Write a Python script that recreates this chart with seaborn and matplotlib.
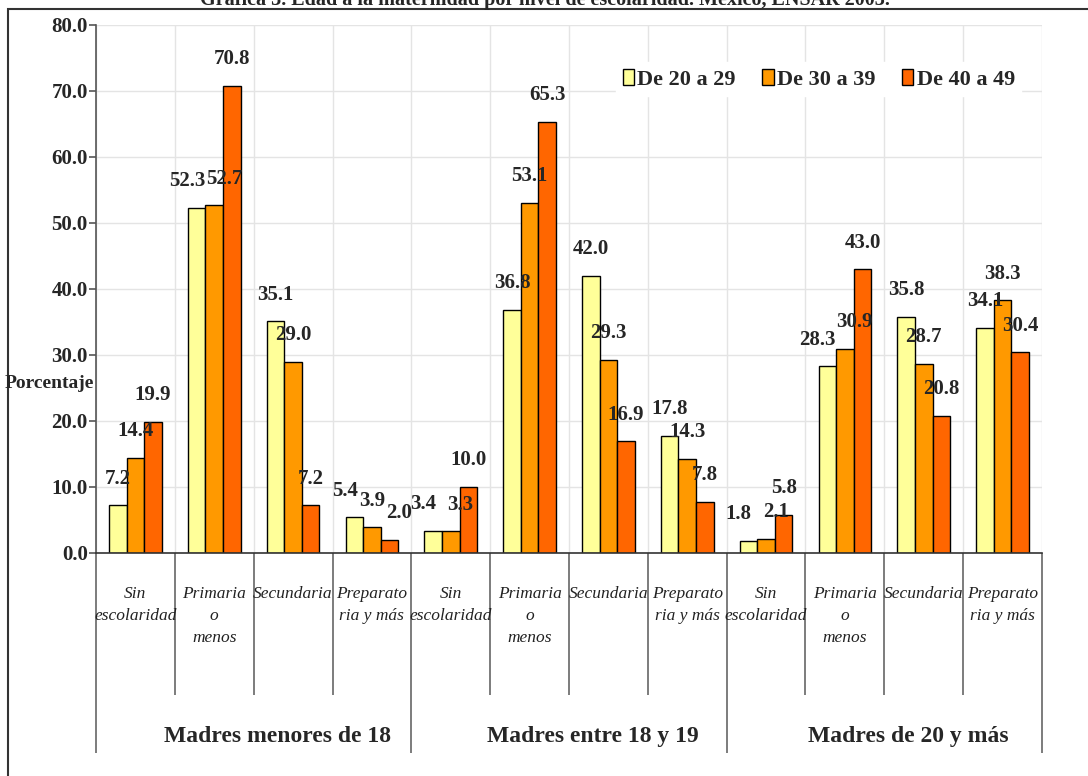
import matplotlib
matplotlib.use("Agg")
import numpy as np
import pandas as pd
import matplotlib.pyplot as plt
import matplotlib.patches as mpatches
import matplotlib.transforms as mtransforms
import seaborn as sns

# ------------------------------------------------------
# Data
# ------------------------------------------------------
groups = ["Madres menores de 18", "Madres entre 18 y 19", "Madres de 20 y más"]
levels = ["Sin\nescolaridad", "Primaria\no\nmenos", "Secundaria", "Preparato\nria y más"]
ages = ["De 20 a 29", "De 30 a 39", "De 40 a 49"]

# one list per age band, 12 values (group x level)
de_20_29 = [7.2, 52.3, 35.1, 5.4, 3.4, 36.8, 42.0, 17.8, 1.8, 28.3, 35.8, 34.1]
de_30_39 = [14.4, 52.7, 29.0, 3.9, 3.3, 53.1, 29.3, 14.3, 2.1, 30.9, 28.7, 38.3]
de_40_49 = [19.9, 70.8, 7.2, 2.0, 10.0, 65.3, 16.9, 7.8, 5.8, 43.0, 20.8, 30.4]

colors = ["#FFFF99", "#FF9900", "#FF6600"]
title = "Gráfica 3. Edad a la maternidad por nivel de escolaridad. México, ENSAR 2003."

# ------------------------------------------------------
# Long table for seaborn
# ------------------------------------------------------
series = [de_20_29, de_30_39, de_40_49]
keys = [f"{g}|{l}" for g in groups for l in levels]
rows = []
for age, vals in zip(ages, series):
    for k, v in zip(keys, vals):
        rows.append({"cat": k, "edad": age, "pct": v})
df = pd.DataFrame(rows)

sns.set_style("white")
plt.rcParams["font.family"] = ["Liberation Serif", "DejaVu Serif"]

fig = plt.figure(figsize=(10.88, 7.76), dpi=100)
ax = fig.add_axes([96 / 1088, 1 - 553 / 776, (1042 - 96) / 1088, (553 - 25) / 776])

sns.barplot(data=df, x="cat", y="pct", hue="edad", order=keys, hue_order=ages,
            palette=colors, width=0.67, edgecolor="black", linewidth=1,
            saturation=1, ax=ax)

# value labels, pushed apart sideways when two neighbours sit at about the same height
pad = 12
labels = [ax.bar_label(cont, fmt="%.1f", padding=pad, fontsize=15, fontweight="bold")
          for cont in ax.containers]
for i in range(len(keys)):
    shifts = [0.0, 0.0, 0.0]
    for h in range(2):
        if abs(series[h][i] - series[h + 1][i]) < 3:
            shifts[h] -= 7
            shifts[h + 1] += 7
    for h in range(3):
        labels[h][i].xyann = (shifts[h], pad)

# axes
ax.set_ylim(0, 80)
ax.set_xlim(-0.5, 11.5)
ax.set_yticks(np.arange(0, 81, 10))
ax.set_yticklabels([f"{v:.1f}" for v in np.arange(0, 81, 10)], fontsize=15, fontweight="bold")
ax.set_xlabel("")
ax.set_ylabel("")

ax.set_xticks([-0.5, 3.5, 7.5, 11.5])
ax.set_xticks([0.5, 1.5, 2.5, 4.5, 5.5, 6.5, 8.5, 9.5, 10.5], minor=True)
ax.tick_params(axis="x", which="major", length=144, width=1.2, color="#666666",
               labelbottom=False, bottom=True)
ax.tick_params(axis="x", which="minor", length=102, width=1.2, color="#666666",
               labelbottom=False, bottom=True)
ax.tick_params(axis="y", length=5, width=1.2, color="#555555", pad=1, left=True)

ax.grid(True, axis="y", color="#e4e4e4", lw=1)
ax.grid(True, axis="x", which="both", color="#e4e4e4", lw=1)
ax.set_axisbelow(True)

for s in ["top", "right"]:
    ax.spines[s].set_visible(False)
ax.spines["left"].set_color("#555555")
ax.spines["bottom"].set_color("#333333")
ax.spines["left"].set_linewidth(1.2)
ax.spines["bottom"].set_linewidth(1.2)

# category labels
trans = mtransforms.blended_transform_factory(ax.transData, ax.transAxes)
for i, k in enumerate(keys):
    ax.text(i, -0.062, levels[i % 4], transform=trans, ha="center", va="top",
            style="italic", fontsize=12.5, linespacing=1.5, color="#222222")
for j, g in enumerate(groups):
    ax.text(4 * j + 1.5 + 0.3, -0.348, g, transform=trans, ha="center", va="center",
            fontsize=17, fontweight="bold")

# legend
handles = [mpatches.Patch(facecolor=c, edgecolor="black", lw=1) for c in colors]
ax.legend(handles, ages, ncol=3, loc="center right", bbox_to_anchor=(0.99, 0.897),
          prop={"weight": "bold", "size": 16}, frameon=True,
          facecolor="white", edgecolor="white", framealpha=1,
          handlelength=0.5, handleheight=0.7, handletextpad=0.15,
          columnspacing=1.2, borderpad=0.3)

fig.text(5 / 1088, 1 - 383 / 776, "Porcentaje", ha="left", va="center",
         fontsize=14, fontweight="bold")
fig.text(0.501, 1 - 5 / 776, title, ha="center", va="baseline",
         fontsize=14.5, fontweight="bold")

# outer frame
fig.patches.append(mpatches.Rectangle((8 / 1088, -0.1), 1.2, 1.1 - 9 / 776,
                                      transform=fig.transFigure, fill=False,
                                      edgecolor="#333333", lw=1.5))

fig.savefig("out.png", dpi=100)
